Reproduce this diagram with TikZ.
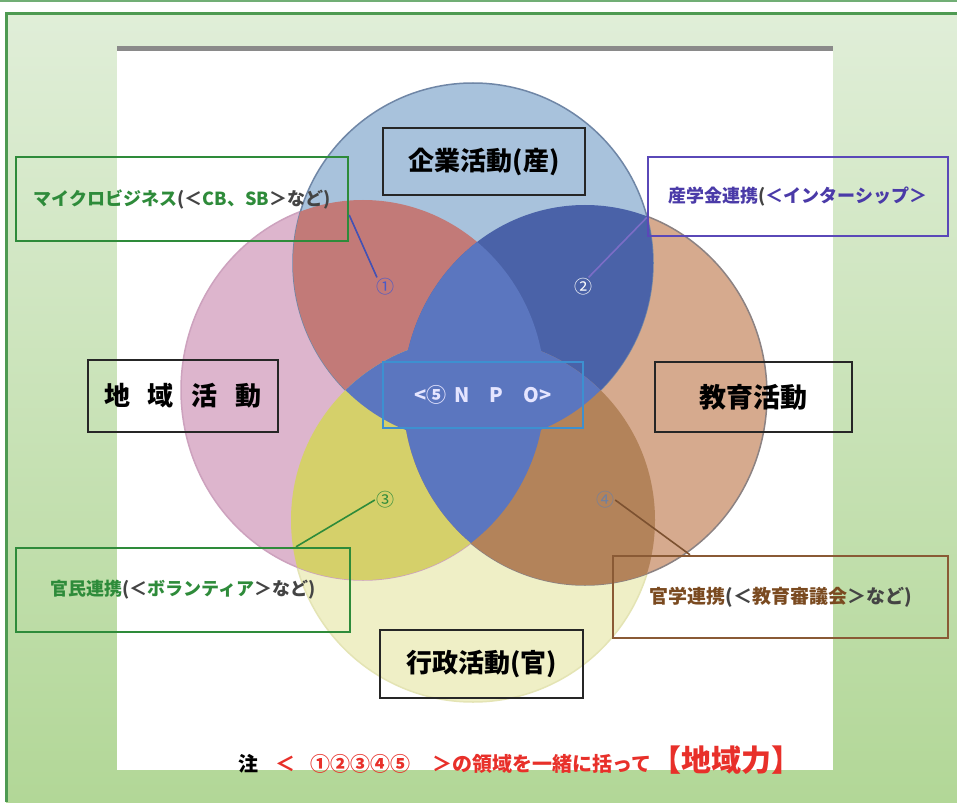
\documentclass[tikz,border=0pt]{standalone}
\usepackage{fontspec}
\setmainfont{Noto Sans CJK JP}
\usetikzlibrary{calc}
\definecolor{frameG}{HTML}{4E9A52}
\definecolor{bgTop}{HTML}{E0EED8}
\definecolor{bgBot}{HTML}{B2D797}
\definecolor{barG}{HTML}{8A8A8A}
\definecolor{cTf}{HTML}{A8C2DC}
\definecolor{cTd}{HTML}{6F86A6}
\definecolor{cLf}{HTML}{DDB5CD}
\definecolor{cLd}{HTML}{CDA2BE}
\definecolor{cRf}{HTML}{D6AA8E}
\definecolor{cRd}{HTML}{8C8282}
\definecolor{cBf}{HTML}{EFEFC6}
\definecolor{cBd}{HTML}{E4E4B4}
\definecolor{oTL}{HTML}{C27A78}
\definecolor{oTR}{HTML}{4A62A8}
\definecolor{oLB}{HTML}{D5D06A}
\definecolor{oRB}{HTML}{B3835A}
\definecolor{oNPO}{HTML}{5B76BF}
\definecolor{npoBox}{HTML}{3D90D0}
\definecolor{mGreen}{HTML}{2E8B3A}
\definecolor{mPurple}{HTML}{4A3AA8}
\definecolor{bPurple}{HTML}{5A48B8}
\definecolor{mBrown}{HTML}{7A4A20}
\definecolor{bBrown}{HTML}{8A5A35}
\definecolor{tGray}{HTML}{444444}
\definecolor{nRed}{HTML}{E8302A}
\definecolor{n1Blue}{HTML}{4A5AC8}
\definecolor{n4Gray}{HTML}{7080A0}
\begin{document}
\begin{tikzpicture}[x=1pt,y=-1pt,
  blackbox/.style={draw=black!85, line width=2.4pt, inner sep=0pt, minimum width=#1},
  tagbox/.style={line width=2.4pt, inner sep=0pt},
  bigtxt/.style={font=\fontsize{26}{30}\selectfont\bfseries},
  tagtxt/.style={font=\fontsize{18}{20}\selectfont\bfseries},
  numtxt/.style={font=\fontsize{18}{20}\selectfont, inner sep=1pt},
  conn/.style={line width=1.6pt}]
\useasboundingbox (0,0) rectangle (957,802);
% background
\fill[white] (0,0) rectangle (957,802);
\draw[frameG!80, line width=2pt] (0,1.5) -- (957,1.5);
\shade[top color=bgTop, bottom color=bgBot] (6,14) rectangle (957,802);
\draw[frameG, line width=3pt] (6,802) -- (6,14) -- (957,14);
% white panel
\fill[white] (117,49) rectangle (833,770);
\fill[barG] (117,46) rectangle (833,51);
% circles
\coordinate (cT) at (473,263);
\coordinate (cL) at (363,390);
\coordinate (cR) at (585,395);
\coordinate (cB) at (473,520);
\tikzset{shT/.style={x radius=180pt, y radius=180pt},
         shL/.style={x radius=182pt, y radius=190pt},
         shB/.style={x radius=182pt, y radius=182pt}}
\path[fill=cBf, draw=cBd, line width=1.5pt] (cB) ellipse[shB];
\path[fill=cLf, draw=cLd, line width=1.5pt] (cL) ellipse[shL];
\path[fill=cRf, draw=cRd, line width=1.5pt] (cR) ellipse[shL];
\path[fill=cTf, draw=cTd, line width=1.5pt] (cT) ellipse[shT];
% overlaps
\begin{scope}
  \clip (cT) ellipse[shT];
  \fill[oTL] (cL) ellipse[shL];
  \fill[oTR] (cR) ellipse[shL];
\end{scope}
\begin{scope}
  \clip (cB) ellipse[shB];
  \fill[oLB] (cL) ellipse[shL];
  \fill[oRB] (cR) ellipse[shL];
\end{scope}
\begin{scope}
  \clip (cL) ellipse[shL];
  \fill[oNPO] (cR) ellipse[shL];
\end{scope}
\begin{scope}
  \clip (cT) ellipse[shT];
  \fill[oNPO] (cB) ellipse[shB];
\end{scope}
% main boxes
\node[blackbox=202pt, minimum height=67pt, bigtxt] (sangyo) at (484,161.5) {企業活動(産)};
\node[blackbox=190pt, minimum height=72pt, bigtxt] (chiiki) at (183,396) {地\hspace{18pt}域\hspace{18pt}活\hspace{18pt}動};
\node[blackbox=197pt, minimum height=70pt, font=\fontsize{27}{30}\selectfont\bfseries] (kyoiku) at (753.5,397) {教育活動};
\node[blackbox=203pt, minimum height=68pt, bigtxt] (gyosei) at (481.5,664) {行政活動(官)};
\node[draw=npoBox, line width=2pt, minimum width=200pt, minimum height=66pt, inner sep=0pt,
      text=white!90!blue, font=\fontsize{20}{22}\selectfont\bfseries] (npo) at (483,395)
      {<⑤\hspace{8pt}N\hspace{20pt}P\hspace{20pt}O>};
% tag boxes
\node[tagbox, draw=mGreen, minimum width=332pt, minimum height=84pt, tagtxt] (micro) at (182,199)
  {\color{mGreen}マイクロビジネス\color{tGray}(＜\color{mGreen}CB、SB\color{tGray}＞など)};
\node[tagbox, draw=bPurple, minimum width=300pt, minimum height=79pt, tagtxt] (sangaku) at (798,196.5)
  {\color{mPurple}産学金連携\color{tGray}(\color{mPurple}＜インターシップ＞};
\node[tagbox, draw=mGreen, minimum width=334pt, minimum height=84pt, tagtxt] (kanmin) at (183,590)
  {\color{mGreen}官民連携\color{tGray}(＜\color{mGreen}ボランティア\color{tGray}＞など)};
\node[tagbox, draw=bBrown, minimum width=335pt, minimum height=82pt, font=\fontsize{19}{21}\selectfont\bfseries] (kangaku) at (780.5,597)
  {\color{mBrown}官学連携\color{tGray}(＜\color{mBrown}教育審議会\color{tGray}＞など)};
% region numbers
\node[numtxt, text=n1Blue] (n1) at (385,287) {①};
\node[numtxt, text=white] (n2) at (583,287) {②};
\node[numtxt, text=mGreen] (n3) at (385,500) {③};
\node[numtxt, text=n4Gray] (n4) at (605,500) {④};
% connectors
\draw[conn, draw=n1Blue!90!black] ([yshift=-16pt]micro.east) -- (n1.130);
\draw[conn, draw=bPurple!80] ([yshift=-21pt]sangaku.west) -- (n2.60);
\draw[conn, draw=mGreen] (n3.west) -- ([xshift=113pt]kanmin.north);
\draw[conn, draw=bBrown!90!black] (n4.east) -- ([xshift=-90.5pt]kangaku.north);
% note
\node[anchor=base west, inner sep=0pt, font=\fontsize{20}{22}\selectfont\bfseries] (note) at (238,771)
  {注\hspace{17pt}{\color{nRed}＜\hspace{15pt}①②③④⑤\hspace{22pt}＞の領域を一緒に括って{\fontsize{30}{32}\selectfont【地域力】}}};
\end{tikzpicture}
\end{document}
